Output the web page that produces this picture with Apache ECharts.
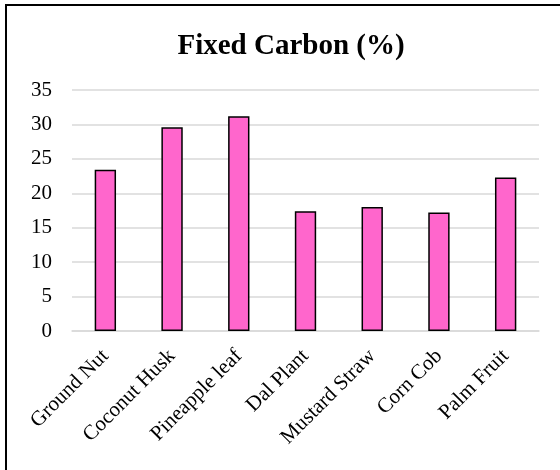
<!DOCTYPE html>
<html>
<head>
<meta charset="utf-8">
<script src="https://cdn.jsdelivr.net/npm/echarts@6/dist/echarts.min.js"></script>
<style>
  html, body { margin: 0; padding: 0; background: #fff; }
  #chart { width: 560px; height: 470px; }
</style>
</head>
<body>
<div id="chart"></div>
<script>
// Fixed carbon content of agricultural residues (%)
const categories = ['Ground Nut', 'Coconut Husk', 'Pineapple leaf', 'Dal Plant', 'Mustard Straw', 'Corn Cob', 'Palm Fruit'];
const fixedCarbon = [23.4, 29.6, 31.2, 17.4, 18.0, 17.2, 22.3];
const yTicks = [0, 5, 10, 15, 20, 25, 30, 35];

const serif = '"Liberation Serif", "Times New Roman", serif';

const chart = echarts.init(document.getElementById('chart'), null, { renderer: 'canvas' });
chart.setOption({
  animation: false,
  backgroundColor: '#ffffff',
  title: {
    text: 'Fixed Carbon (%)',
    left: 286,
    textAlign: 'center',
    top: 27,
    textStyle: { fontFamily: serif, fontWeight: 'bold', fontSize: 29, color: '#000' }
  },
  graphic: [{
    type: 'rect',
    shape: { x: 6, y: 5, width: 560, height: 470 },
    style: { fill: 'none', stroke: '#000', lineWidth: 2 },
    z: 100
  }],
  grid: { left: 72, right: 21, top: 90, bottom: 139 },
  xAxis: {
    type: 'category',
    data: categories,
    axisLine: { show: true, lineStyle: { color: '#d9d9d9', width: 1.5 } },
    axisTick: { show: false },
    axisLabel: {
      rotate: 45,
      interval: 0,
      margin: 22,
      fontFamily: serif,
      fontSize: 21,
      color: '#000'
    }
  },
  yAxis: {
    type: 'value',
    min: yTicks[0],
    max: yTicks[yTicks.length - 1],
    interval: yTicks[1] - yTicks[0],
    axisLine: { show: false },
    axisTick: { show: false },
    splitLine: { lineStyle: { color: '#d9d9d9', width: 1.5 } },
    axisLabel: {
      margin: 20,
      fontFamily: serif,
      fontSize: 21,
      color: '#000'
    }
  },
  series: [{
    type: 'bar',
    data: fixedCarbon,
    barWidth: '32%',
    itemStyle: { color: '#ff66cc', borderColor: '#000', borderWidth: 1.5 }
  }]
});
</script>
</body>
</html>
